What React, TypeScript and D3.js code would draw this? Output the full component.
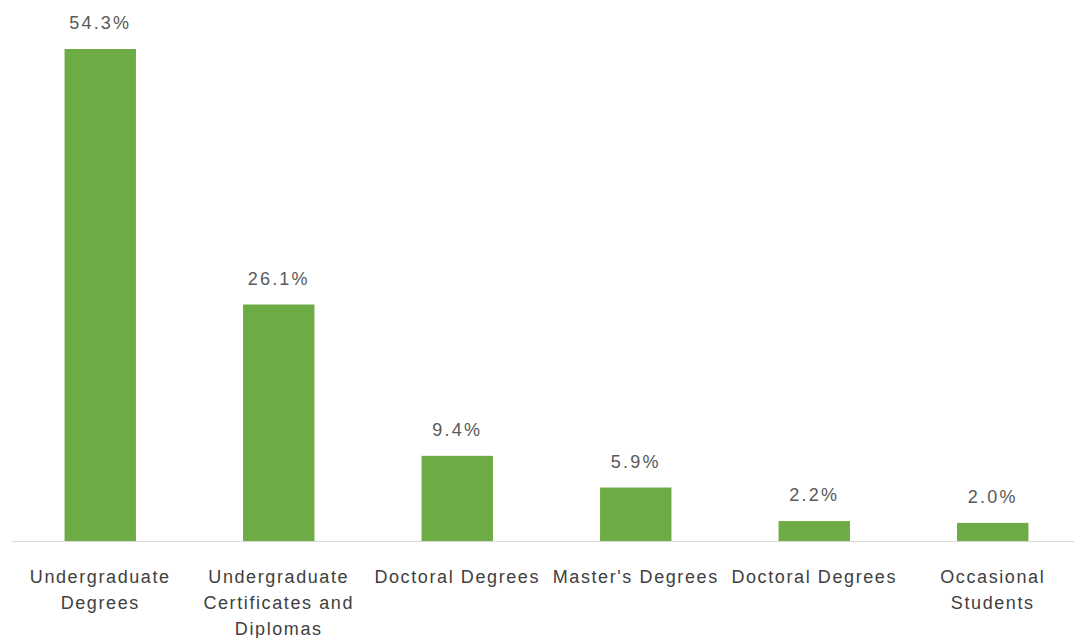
import React from "react";
import * as d3 from "d3";

const categories: string[][] = [
  ["Undergraduate", "Degrees"],
  ["Undergraduate", "Certificates and", "Diplomas"],
  ["Doctoral Degrees"],
  ["Master's Degrees"],
  ["Doctoral Degrees"],
  ["Occasional", "Students"],
];
const values: number[] = [54.3, 26.1, 9.4, 5.9, 2.2, 2.0];
const valueLabels: string[] = ["54.3%", "26.1%", "9.4%", "5.9%", "2.2%", "2.0%"];

const W = 1074;
const H = 638;

export default function App() {
  const ids = values.map((_, i) => String(i));
  const x = d3.scaleBand<string>().domain(ids).range([11, 1082]).paddingInner(0.6).paddingOuter(0.3);
  const y = d3.scaleLinear().domain([0, 54.3]).range([541, 49]);
  const font = "'Liberation Sans', Arial, sans-serif";
  return (
    <svg width={W} height={H} style={{ position: "absolute", left: 0, top: 0, background: "#fff" }}>
      <line x1={12} x2={W} y1={541.5} y2={541.5} stroke="#d9d9d9" strokeWidth={1.2} />
      {values.map((v, i) => (
        <rect key={"b" + i} x={x(ids[i])} y={y(v)} width={x.bandwidth()} height={y(0) - y(v)} fill="#6dab45" />
      ))}
      {values.map((v, i) => (
        <text key={"v" + i} x={(x(ids[i]) as number) + x.bandwidth() / 2} y={y(v) - 26} dy="0.35em"
          textAnchor="middle" fontFamily={font} fontSize={18} letterSpacing={2.2} fill="#595959">
          {valueLabels[i]}
        </text>
      ))}
      {categories.map((lines, i) => (
        <text key={"c" + i} textAnchor="middle" fontFamily={font} fontSize={18} letterSpacing={1.6} fill="#404040">
          {lines.map((l, j) => (
            <tspan key={j} x={(x(ids[i]) as number) + x.bandwidth() / 2} y={577 + j * 26} dy="0.35em">{l}</tspan>
          ))}
        </text>
      ))}
    </svg>
  );
}
